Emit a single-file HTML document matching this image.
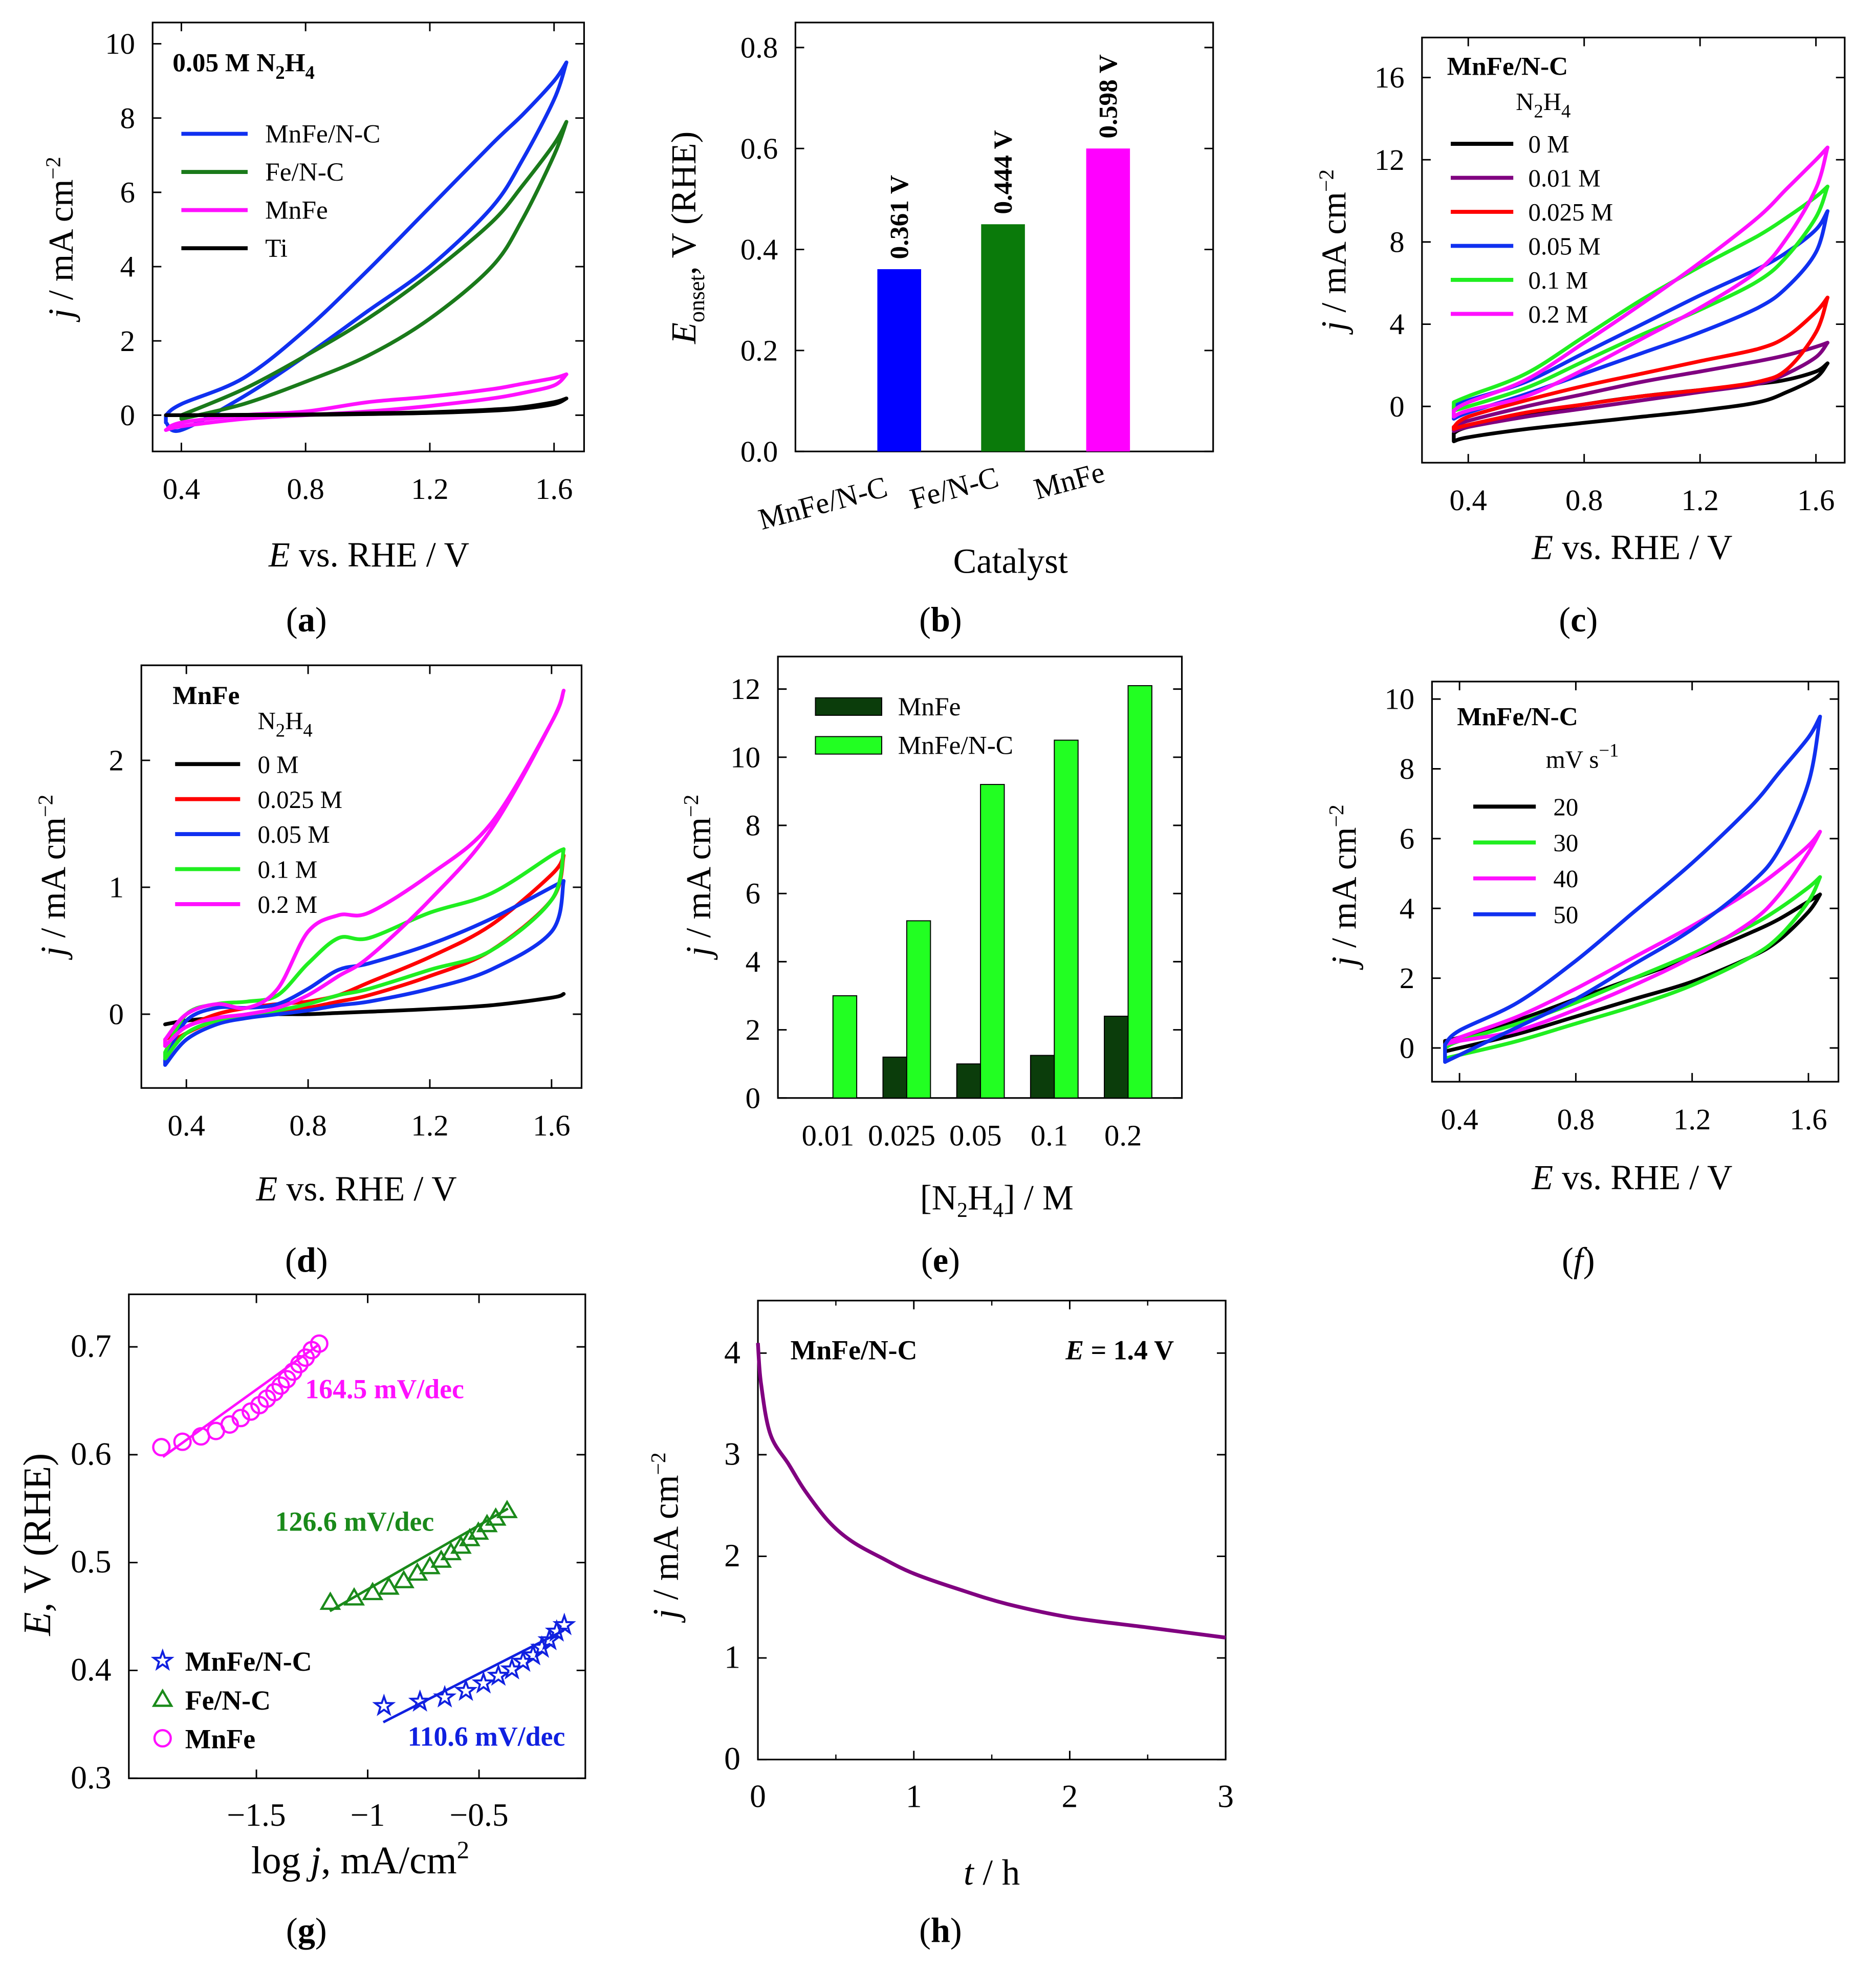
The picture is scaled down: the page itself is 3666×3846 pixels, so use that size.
<!DOCTYPE html>
<html><head><meta charset="utf-8"><style>
html,body{margin:0;padding:0;background:#fff}
svg{display:block;font-family:"Liberation Serif",serif}
</style></head><body>
<svg id="fig" xmlns="http://www.w3.org/2000/svg" width="3666" height="3846" viewBox="0 0 1500 1573.7"></svg>
<script>
// ===== data =====
const aE=[0.35,0.4,0.6,0.8,1.0,1.2,1.4,1.5,1.6,1.64];
const aNames=["MnFe/N-C","Fe/N-C","MnFe","Ti"];
const aUp=[[0.0,0.3,1.0,2.3,3.9,5.6,7.3,8.1,9.0,9.5],[null,0,0.7,1.6,2.6,3.8,5.2,6.2,7.3,7.9],[-0.4,-0.2,0.0,0.1,0.35,0.5,0.7,0.85,1.0,1.1],[0,0,0.01,0.02,0.05,0.08,0.15,0.22,0.35,0.45]];
const aDn=[[-0.2,-0.4,0.5,1.6,2.8,4.0,5.6,6.9,8.5,9.5],[null,-0.1,0.3,0.9,1.6,2.6,4.0,5.3,7.0,7.9],[-0.4,-0.3,-0.1,0.0,0.1,0.25,0.45,0.6,0.8,1.1],[0,0,0,0.01,0.03,0.06,0.12,0.18,0.3,0.45]];
const bCats=["MnFe/N-C","Fe/N-C","MnFe"];
const bVals=[0.361,0.45,0.6];
const bLabels=["0.361 V","0.444 V","0.598 V"];
const cE=[0.35,0.4,0.6,0.8,1.0,1.2,1.4,1.5,1.6,1.64];
const cNames=["0 M","0.01 M","0.025 M","0.05 M","0.1 M","0.2 M"];
const cUp=[[-1.3,-1.0,-0.4,0.1,0.5,0.8,1.1,1.3,1.7,2.1],[-1.0,-0.7,0,0.6,1.2,1.7,2.2,2.5,2.9,3.1],[-1.0,-0.5,0.3,1.0,1.6,2.2,2.8,3.4,4.6,5.3],[0.0,0.3,1.2,2.6,4.0,5.4,6.7,7.5,8.6,9.5],[0.2,0.5,1.6,3.4,5.2,6.8,8.3,9.2,10.2,10.7],[-0.2,0.2,1.3,3.1,5.0,7.0,9.2,10.6,12.0,12.6]];
const cDn=[[-1.7,-1.5,-1.1,-0.8,-0.5,-0.2,0.2,0.7,1.4,2.1],[-1.2,-1.0,-0.5,-0.1,0.3,0.7,1.1,1.6,2.4,3.1],[-1.1,-0.9,-0.3,0.1,0.5,0.8,1.2,1.8,3.6,5.3],[-0.6,-0.3,0.6,1.6,2.6,3.6,4.8,5.8,7.5,9.5],[-0.2,0.0,0.9,2.2,3.5,4.7,6.1,7.3,9.2,10.7],[-0.5,-0.2,0.5,1.8,3.3,4.8,6.6,8.2,10.6,12.6]];
const dE=[0.33,0.4,0.5,0.6,0.7,0.8,0.9,1.0,1.2,1.4,1.6,1.64];
const dNames=["0 M","0.025 M","0.05 M","0.1 M","0.2 M"];
const dUp=[[-0.08,-0.05,-0.03,-0.01,0,0,0.01,0.02,0.04,0.07,0.13,0.16],[-0.2,-0.1,0,0.05,0.08,0.1,0.15,0.25,0.45,0.7,1.1,1.25],[-0.35,-0.05,0.05,0.05,0.08,0.2,0.35,0.4,0.55,0.75,1.0,1.05],[-0.3,0,0.08,0.1,0.15,0.4,0.6,0.6,0.8,0.95,1.25,1.3],[-0.2,0,0.08,0.05,0.2,0.65,0.78,0.8,1.1,1.5,2.3,2.55]];
const dDn=[[-0.08,-0.05,-0.03,-0.01,0,0,0.01,0.02,0.04,0.07,0.13,0.16],[-0.25,-0.15,-0.05,-0.02,0.02,0.05,0.1,0.15,0.3,0.5,0.9,1.25],[-0.4,-0.2,-0.08,-0.03,0,0.03,0.07,0.1,0.2,0.35,0.65,1.05],[-0.35,-0.15,-0.05,0,0.03,0.08,0.15,0.2,0.35,0.5,0.9,1.3],[-0.25,-0.1,-0.03,0.0,0.05,0.15,0.3,0.45,0.9,1.45,2.3,2.55]];
const eCats=["0.01","0.025","0.05","0.1","0.2"];
const eMnFe=[0,1.2,1.0,1.25,2.4];
const eMnFeNC=[3.0,5.2,9.2,10.5,12.1];
const fE=[0.35,0.4,0.6,0.8,1.0,1.2,1.4,1.5,1.6,1.64];
const fNames=["20","30","40","50"];
const fUp=[[0.2,0.3,0.8,1.4,2.0,2.6,3.3,3.7,4.2,4.4],[0,0.2,0.7,1.3,2.0,2.7,3.5,4.0,4.6,4.9],[0.1,0.3,0.9,1.7,2.6,3.5,4.5,5.1,5.8,6.2],[0.1,0.5,1.3,2.5,3.9,5.3,6.9,7.9,8.9,9.5]];
const fDn=[[-0.1,0,0.4,0.9,1.4,1.9,2.6,3.1,3.9,4.4],[-0.3,-0.2,0.2,0.7,1.2,1.8,2.6,3.2,4.2,4.9],[0.1,0.2,0.5,1.1,1.8,2.6,3.6,4.4,5.6,6.2],[-0.4,-0.2,0.6,1.4,2.4,3.4,4.7,5.7,7.6,9.5]];
const gMnFeX=[-1.927,-1.832,-1.749,-1.682,-1.62,-1.57,-1.525,-1.486,-1.453,-1.419,-1.391,-1.363,-1.335,-1.307,-1.279,-1.251,-1.218];
const gMnFeY=[0.607,0.612,0.617,0.622,0.628,0.634,0.64,0.646,0.652,0.658,0.664,0.67,0.677,0.684,0.69,0.697,0.703];
const gFeX=[-1.168,-1.061,-0.978,-0.905,-0.838,-0.777,-0.721,-0.670,-0.626,-0.581,-0.542,-0.503,-0.464,-0.425,-0.374];
const gFeY=[0.463,0.467,0.472,0.477,0.483,0.49,0.496,0.502,0.509,0.515,0.522,0.528,0.535,0.541,0.548];
const gNCX=[-0.927,-0.765,-0.654,-0.559,-0.480,-0.413,-0.352,-0.302,-0.257,-0.218,-0.184,-0.151,-0.117];
const gNCY=[0.367,0.371,0.375,0.381,0.388,0.395,0.401,0.408,0.414,0.421,0.428,0.436,0.442];
const gFitX=[[-1.92,-1.22],[-1.17,-0.37],[-0.93,-0.12]];
const gFitY=[[0.598,0.702],[0.455,0.55],[0.352,0.437]];
const hT=[0,0.02,0.08,0.2,0.3,0.45,0.6,0.8,1.0,1.3,1.6,2.0,2.5,3.0];
const hJ=[4.1,3.7,3.2,2.9,2.65,2.35,2.15,1.98,1.83,1.67,1.53,1.4,1.3,1.2];

// ===== helpers =====
const NS="http://www.w3.org/2000/svg";
const svg=document.getElementById('fig');
function mk(tag,attrs,parent){const e=document.createElementNS(NS,tag);for(const k in attrs)e.setAttribute(k,attrs[k]);(parent||svg).appendChild(e);return e;}
function txt(x,y,s,size,parent,name,extra){
  const t=mk('text',Object.assign({x:x,y:y,'font-size':size,'text-anchor':'middle'},extra||{}),parent);
  t.innerHTML=s;
  
  
  return t;
}
function lin(d0,d1,p0,p1){return v=>p0+(v-d0)*(p1-p0)/(d1-d0);}
function smooth(p){ // p: [[x,y],...], returns segments after first point
  let d='';
  for(let i=0;i<p.length-1;i++){
    const p0=p[Math.max(0,i-1)],p1=p[i],p2=p[i+1],p3=p[Math.min(p.length-1,i+2)];
    const c1=[p1[0]+(p2[0]-p0[0])/6,p1[1]+(p2[1]-p0[1])/6],c2=[p2[0]-(p3[0]-p1[0])/6,p2[1]-(p3[1]-p1[1])/6];
    d+='C'+c1.map(v=>v.toFixed(1)).join(',')+' '+c2.map(v=>v.toFixed(1)).join(',')+' '+p2.map(v=>v.toFixed(1)).join(',');
  }
  return d;
}
function panel(name){const g=mk('g',{});
  
  
  return g;}
function axes(g,b,xs,ys,xt,xl,yt,yl,fs){
  const r=mk('rect',{x:b[0],y:b[1],width:b[2]-b[0],height:b[3]-b[1],fill:'none',stroke:'#000','stroke-width':1.3},g);
  
  
  xt.forEach((v,i)=>{const x=xs(v);
    mk('line',{x1:x,x2:x,y1:b[3],y2:b[3]-7,stroke:'#000','stroke-width':1.2},g);
    mk('line',{x1:x,x2:x,y1:b[1],y2:b[1]+7,stroke:'#000','stroke-width':1.2},g);
    if(xl) txt(x,b[3]+38,xl[i],fs||24,g,'x-tick-label');});
  yt.forEach((v,i)=>{const y=ys(v);
    mk('line',{x1:b[0],x2:b[0]+7,y1:y,y2:y,stroke:'#000','stroke-width':1.2},g);
    mk('line',{x1:b[2],x2:b[2]-7,y1:y,y2:y,stroke:'#000','stroke-width':1.2},g);
    txt(b[0]-14,y+8,yl[i],fs||24,g,'y-tick-label',{'text-anchor':'end'});});
}
function loop(g,E,up,dn,xs,ys,col,name){
  const u=[],w=[];
  E.forEach((e,i)=>{if(up[i]!=null)u.push([xs(e),ys(up[i])]);});
  for(let i=E.length-1;i>=0;i--){if(dn[i]!=null)w.push([xs(E[i]),ys(dn[i])]);}
  const d='M'+u[0][0].toFixed(1)+','+u[0][1].toFixed(1)+smooth(u)+'L'+w[0][0].toFixed(1)+','+w[0][1].toFixed(1)+smooth(w)+'Z';
  const p=mk('path',{d:d,fill:'none',stroke:col,'stroke-width':3,'stroke-linejoin':'round'},g);
  
  
}
function legLine(g,x1,x2,y,col,label,tx,fs){
  const l=mk('line',{x1:x1,x2:x2,y1:y,y2:y,stroke:col,'stroke-width':3.2},g);
  
  
  txt(tx,y+7,label,fs||21,g,'legend-entry',{'text-anchor':'start'});
}
const ytitle='<tspan font-style="italic">j</tspan> / mA cm<tspan dy="-10" font-size="17">−2</tspan>';
const xtitleE='<tspan font-style="italic">E</tspan> vs. RHE / V';
const N2H4='N<tspan dy="6" font-size="15">2</tspan><tspan dy="-6">H</tspan><tspan dy="6" font-size="15">4</tspan>';

// ===== (a) =====
{const g=panel('panel-a');const b=[122,18,467,361];
 const xs=lin(0.4,1.6,145,443),ys=lin(0,10,332,35);
 axes(g,b,xs,ys,[0.4,0.8,1.2,1.6],['0.4','0.8','1.2','1.6'],[0,2,4,6,8,10],['0','2','4','6','8','10']);
 const cols=['#1030f0','#1a7a1a','#ff10ff','#000'];
 aNames.forEach((n,i)=>loop(g,aE,aUp[i],aDn[i],xs,ys,cols[i],'cv-'+n));
 txt(138,57,'<tspan font-weight="bold">0.05 M '+N2H4+'</tspan>',21,g,'condition-label',{'text-anchor':'start','font-weight':'bold'});
 aNames.forEach((n,i)=>legLine(g,145,198,107+i*30.5,cols[i],n,212));
 txt(295,453,xtitleE,28,g,'x-axis-title');
 txt(0,0,ytitle,28,g,'y-axis-title',{transform:'translate(58,190) rotate(-90)'});
 txt(245,505,'(<tspan font-weight="bold">a</tspan>)',28,g,'panel-label');}

// ===== (b) =====
{const g=panel('panel-b');const b=[636,18,970,361];
 const ys=lin(0,0.8,361,38);
 axes(g,b,v=>v,ys,[],null,[0,0.2,0.4,0.6,0.8],['0.0','0.2','0.4','0.6','0.8']);
 const cols=['#0000ff','#0a7a0a','#ff00ff'];const cx=[719,802,886];const tp=[[660,410],[765,398],[857,392]];
 bVals.forEach((v,i)=>{const r=mk('rect',{x:cx[i]-17.5,y:ys(v),width:35,height:ys(0)-ys(v),fill:cols[i]},g);
   
   
   txt(0,0,bLabels[i],21,g,'bar-value-label',{'font-weight':'bold','text-anchor':'start',transform:'translate('+(cx[i]+7)+','+(ys(v)-8)+') rotate(-90)'});
   txt(0,0,bCats[i],24,g,'x-tick-label',{transform:'translate('+tp[i][0]+','+tp[i][1]+') rotate(-15)'});});
 txt(808,458,'Catalyst',28,g,'x-axis-title');
 txt(0,0,'<tspan font-style="italic">E</tspan><tspan dy="7" font-size="18">onset</tspan><tspan dy="-7">, V (RHE)</tspan>',28,g,'y-axis-title',{transform:'translate(556,190) rotate(-90)'});
 txt(752,505,'(<tspan font-weight="bold">b</tspan>)',28,g,'panel-label');}

// ===== (c) =====
{const g=panel('panel-c');const b=[1137,30,1475,370];
 const xs=lin(0.4,1.6,1174,1452),ys=lin(0,16,325,62);
 axes(g,b,xs,ys,[0.4,0.8,1.2,1.6],['0.4','0.8','1.2','1.6'],[0,4,8,12,16],['0','4','8','12','16']);
 const cols=['#000','#800080','#ff0000','#1030f0','#20ee20','#ff10ff'];
 cNames.forEach((n,i)=>loop(g,cE,cUp[i],cDn[i],xs,ys,cols[i],'cv-'+n));
 txt(1157,60,'MnFe/N-C',21,g,'legend-title',{'text-anchor':'start','font-weight':'bold'});
 txt(1212,88,N2H4,20,g,'legend-subtitle',{'text-anchor':'start'});
 cNames.forEach((n,i)=>legLine(g,1160,1210,115+i*27.2,cols[i],n,1222,20));
 txt(1305,447,xtitleE,28,g,'x-axis-title');
 txt(0,0,ytitle,28,g,'y-axis-title',{transform:'translate(1076,200) rotate(-90)'});
 txt(1262,505,'(<tspan font-weight="bold">c</tspan>)',28,g,'panel-label');}

// ===== (d) =====
{const g=panel('panel-d');const b=[113,532,465,870];
 const xs=lin(0.4,1.6,149,441),ys=lin(0,2,811,608);
 axes(g,b,xs,ys,[0.4,0.8,1.2,1.6],['0.4','0.8','1.2','1.6'],[0,1,2],['0','1','2']);
 const cols=['#000','#ff0000','#1030f0','#20ee20','#ff10ff'];
 dNames.forEach((n,i)=>loop(g,dE,dUp[i],dDn[i],xs,ys,cols[i],'cv-'+n));
 txt(138,563,'MnFe',21,g,'legend-title',{'text-anchor':'start','font-weight':'bold'});
 txt(206,583,N2H4,20,g,'legend-subtitle',{'text-anchor':'start'});
 dNames.forEach((n,i)=>legLine(g,140,192,611+i*28,cols[i],n,206,20));
 txt(285,960,xtitleE,28,g,'x-axis-title');
 txt(0,0,ytitle,28,g,'y-axis-title',{transform:'translate(52,700) rotate(-90)'});
 txt(245,1017,'(<tspan font-weight="bold">d</tspan>)',28,g,'panel-label');}

// ===== (e) =====
{const g=panel('panel-e');const b=[622,525,945,878];
 const ys=lin(0,12,878,551);const xs=i=>666+i*59;
 axes(g,b,v=>v,ys,[],null,[0,2,4,6,8,10,12],['0','2','4','6','8','10','12']);
 eCats.forEach((c,i)=>{
   const r1=mk('rect',{x:xs(i)-19,y:ys(eMnFe[i]),width:19,height:ys(0)-ys(eMnFe[i]),fill:'#0b3d0b',stroke:'#000','stroke-width':0.8},g);
   
   
   const r2=mk('rect',{x:xs(i),y:ys(eMnFeNC[i]),width:19,height:ys(0)-ys(eMnFeNC[i]),fill:'#22ff22',stroke:'#000','stroke-width':0.8},g);
   
   
   txt(xs(i)-4,916,c,24,g,'x-tick-label');});
 [['#0b3d0b','MnFe',565],['#22ff22','MnFe/N-C',596]].forEach(l=>{
   const r=mk('rect',{x:652,y:l[2]-7,width:53,height:14,fill:l[0],stroke:'#000','stroke-width':0.8},g);
   
   
   txt(718,l[2]+7,l[1],21,g,'legend-entry',{'text-anchor':'start'});});
 txt(797,967,'[N<tspan dy="6" font-size="17">2</tspan><tspan dy="-6">H</tspan><tspan dy="6" font-size="17">4</tspan><tspan dy="-6">] / M</tspan>',28,g,'x-axis-title');
 txt(0,0,ytitle,28,g,'y-axis-title',{transform:'translate(568,700) rotate(-90)'});
 txt(752,1017,'(<tspan font-weight="bold">e</tspan>)',28,g,'panel-label');}

// ===== (f) =====
{const g=panel('panel-f');const b=[1145,545,1470,865];
 const xs=lin(0.4,1.6,1167,1446),ys=lin(0,10,838,559);
 axes(g,b,xs,ys,[0.4,0.8,1.2,1.6],['0.4','0.8','1.2','1.6'],[0,2,4,6,8,10],['0','2','4','6','8','10']);
 const cols=['#000','#20ee20','#ff10ff','#1030f0'];
 fNames.forEach((n,i)=>loop(g,fE,fUp[i],fDn[i],xs,ys,cols[i],'cv-'+n+'-mVs'));
 txt(1165,580,'MnFe/N-C',21,g,'legend-title',{'text-anchor':'start','font-weight':'bold'});
 txt(1236,614,'mV s<tspan dy="-9" font-size="15">−1</tspan>',20,g,'legend-subtitle',{'text-anchor':'start'});
 fNames.forEach((n,i)=>legLine(g,1178,1228,645+i*28.7,cols[i],n,1242,20));
 txt(1305,951,xtitleE,28,g,'x-axis-title');
 txt(0,0,ytitle,28,g,'y-axis-title',{transform:'translate(1084,708) rotate(-90)'});
 txt(1262,1017,'(<tspan font-style="italic">f</tspan>)',28,g,'panel-label');}

// ===== (g) =====
{const g=panel('panel-g');const b=[103,1035,468,1422];
 const xs=lin(-1,-0.5,294,383),ys=lin(0.3,0.7,1422,1077);
 axes(g,b,xs,ys,[-1.5,-1,-0.5],['−1.5','−1','−0.5'],[0.3,0.4,0.5,0.6,0.7],['0.3','0.4','0.5','0.6','0.7'],26);
 const cols=['#ff10ff','#1a8a1a','#1020e0'];
 gFitX.forEach((fx,i)=>{const l=mk('line',{x1:xs(fx[0]),y1:ys(gFitY[i][0]),x2:xs(fx[1]),y2:ys(gFitY[i][1]),stroke:cols[i],'stroke-width':2},g);
   
   });
 function circ(x,y,n){const c=mk('circle',{cx:x,cy:y,r:6.5,fill:'none',stroke:cols[0],'stroke-width':1.8},g);
   
   }
 function tri(x,y,n){const c=mk('path',{d:`M${x},${y-7}L${x+7},${y+5}L${x-7},${y+5}Z`,fill:'none',stroke:cols[1],'stroke-width':1.8},g);
   
   }
 function star(x,y,n){let d='';for(let k=0;k<10;k++){const r=k%2?3:7.5,a=-Math.PI/2+k*Math.PI/5;d+=(k?'L':'M')+(x+r*Math.cos(a)).toFixed(1)+','+(y+r*Math.sin(a)).toFixed(1);}
   const c=mk('path',{d:d+'Z',fill:'none',stroke:cols[2],'stroke-width':1.6},g);
   
   }
 gMnFeX.forEach((v,i)=>circ(xs(v),ys(gMnFeY[i]),'point-mnfe'));
 gFeX.forEach((v,i)=>tri(xs(v),ys(gFeY[i]),'point-fe-nc'));
 gNCX.forEach((v,i)=>star(xs(v),ys(gNCY[i]),'point-mnfe-nc'));
 txt(244,1118,'164.5 mV/dec',22,g,'slope-label-mnfe',{'text-anchor':'start','font-weight':'bold',fill:cols[0]});
 txt(220,1224,'126.6 mV/dec',22,g,'slope-label-fe-nc',{'text-anchor':'start','font-weight':'bold',fill:cols[1]});
 txt(326,1396,'110.6 mV/dec',22,g,'slope-label-mnfe-nc',{'text-anchor':'start','font-weight':'bold',fill:cols[2]});
 star(130,1328,'legend-marker');tri(130,1359,'legend-marker');circ(130,1390,'legend-marker');
 txt(148,1336,'MnFe/N-C',22,g,'legend-entry',{'text-anchor':'start','font-weight':'bold'});
 txt(148,1367,'Fe/N-C',22,g,'legend-entry',{'text-anchor':'start','font-weight':'bold'});
 txt(148,1398,'MnFe',22,g,'legend-entry',{'text-anchor':'start','font-weight':'bold'});
 txt(288,1498,'log <tspan font-style="italic">j</tspan>, mA/cm<tspan dy="-12" font-size="20">2</tspan>',31,g,'x-axis-title');
 txt(0,0,'<tspan font-style="italic">E</tspan>, V (RHE)',31,g,'y-axis-title',{transform:'translate(40,1235) rotate(-90)'});
 txt(245,1553,'(<tspan font-weight="bold">g</tspan>)',28,g,'panel-label');}

// ===== (h) =====
{const g=panel('panel-h');const b=[606,1040,980,1407];
 const xs=lin(0,3,606,980),ys=lin(0,4,1407,1082);
 axes(g,b,xs,ys,[0,1,2,3],['0','1','2','3'],[0,1,2,3,4],['0','1','2','3','4'],26);
 [0.5,1.5,2.5].forEach(v=>{mk('line',{x1:xs(v),x2:xs(v),y1:1407,y2:1403,stroke:'#000'},g);mk('line',{x1:xs(v),x2:xs(v),y1:1040,y2:1044,stroke:'#000'},g);});
 const hp=hT.map((t,i)=>[xs(t),ys(hJ[i])]);
 const p=mk('path',{d:'M'+hp[0][0].toFixed(1)+','+hp[0][1].toFixed(1)+smooth(hp),fill:'none',stroke:'#800080','stroke-width':3},g);
 
 
 txt(632,1087,'MnFe/N-C',22,g,'condition-label',{'text-anchor':'start','font-weight':'bold'});
 txt(852,1087,'<tspan font-style="italic">E</tspan> = 1.4 V',22,g,'potential-label',{'text-anchor':'start','font-weight':'bold'});
 txt(793,1507,'<tspan font-style="italic">t</tspan> / h',29,g,'x-axis-title');
 txt(0,0,ytitle,29,g,'y-axis-title',{transform:'translate(542,1228) rotate(-90)'});
 txt(752,1553,'(<tspan font-weight="bold">h</tspan>)',28,g,'panel-label');}
</script>
</body></html>
